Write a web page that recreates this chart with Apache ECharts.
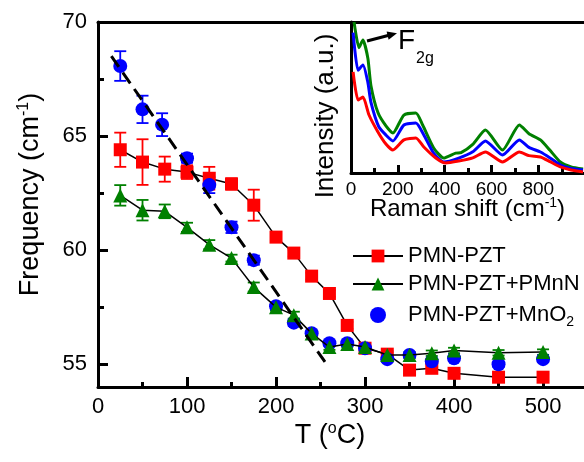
<!DOCTYPE html>
<html>
<head>
<meta charset="utf-8">
<script src="https://cdn.jsdelivr.net/npm/echarts@6/dist/echarts.min.js"></script>
<style>body{margin:0;background:#fff;}</style>
</head>
<body>
<div id="main" style="width:584px;height:462px;"></div>
<script>
// temperatures (oC)
var temps   = [25, 50, 75, 100, 125, 150, 175, 200, 220, 240, 260, 280, 300, 325, 350, 375, 400, 450, 500];
var tempsMn = [25, 50, 72, 100, 125, 150, 175, 200, 220, 240, 260, 280, 300, 325, 350, 375, 400, 450, 500];

// F2g mode frequency (cm-1) and error
var freqPZT  = [64.4, 63.86, 63.55, 63.42, 63.15, 62.9, 61.97, 60.57, 59.87, 58.86, 58.1, 56.7, 55.7, 55.44, 54.74, 54.82, 54.6, 54.43, 54.43];
var errPZT   = [0.75, 1.0, 0.55, 0.3, 0.5, 0.25, 0.68, 0.2, 0.15, 0.15, 0.15, 0.15, 0.15, 0.15, 0.15, 0.15, 0.15, 0.15, 0.15];
var freqPMnN = [62.4, 61.75, 61.7, 61.0, 60.24, 59.65, 58.38, 57.5, 57.15, 56.35, 55.75, 55.88, 55.75, 55.4, 55.4, 55.48, 55.6, 55.5, 55.53];
var errPMnN  = [0.45, 0.45, 0.3, 0.2, 0.2, 0.15, 0.2, 0.15, 0.15, 0.12, 0.12, 0.12, 0.12, 0.12, 0.12, 0.12, 0.12, 0.12, 0.12];
var freqMnO2 = [68.07, 66.17, 65.5, 64.03, 62.85, 61.0, 59.56, 57.54, 56.82, 56.36, 55.92, 55.92, 55.7, 55.22, 55.4, 55.13, 55.26, 55.0, 55.22];
var errMnO2  = [0.65, 0.6, 0.5, 0.2, 0.35, 0.25, 0.2, 0.15, 0.15, 0.12, 0.12, 0.12, 0.12, 0.12, 0.12, 0.12, 0.12, 0.12, 0.12];

// linear guide through the MnO2 points
var fitT = [15, 255];
var fitF = [68.5, 55.1];

// inset Raman spectra [shift, intensity]
var ramanPMnN = [[13,100],[34,83],[51,88],[72,76],[85,58],[115,40],[150,31],[179,26.5],[226,38.4],[277,39.7],[306,31.8],[353,16.6],[396,9.9],[447,13.2],[470,13.5],[520,19],[574,28.5],[647,15.2],[719,31.8],[760,26],[809,21.9],[850,15],[894,7.3],[940,4],[991,2.6]];
var ramanMnO2 = [[9,93],[30,68],[51,71.5],[72,60],[85,47],[119,30.5],[150,25],[179,21.2],[226,31.8],[277,33.1],[311,25.2],[353,13.2],[396,7.3],[460,9.9],[520,14],[574,21.2],[647,11.9],[719,21.9],[760,17],[809,13.9],[850,10],[894,5.3],[940,3],[991,2]];
var ramanPZT  = [[9,67],[30,48.3],[51,50.3],[77,38.4],[115,27.2],[150,19],[179,15.2],[226,21.9],[277,23.2],[311,17.2],[362,9.9],[404,6.6],[460,7.9],[520,10],[574,13.9],[647,7.3],[719,13.9],[760,11.5],[809,10.6],[850,7.5],[894,4],[940,2],[991,0.7]];

// axis ticks
var xMajor = [0, 100, 200, 300, 400, 500];
var xMinor = [50, 150, 250, 350, 450];
var yMajor = [55, 60, 65, 70];
var yMinor = [57.5, 62.5, 67.5];
var insetMajor = [0, 200, 400, 600, 800];
var insetMinor = [100, 300, 500, 700, 900];

var FONT = 'Liberation Sans';
var RED = '#ff0000', GREEN = '#008000', BLUE = '#0000ff';

function pairs(xs, ys) {
    return xs.map(function (x, i) { return [x, ys[i]]; });
}

function errorBars(color, xs, ys, es) {
    return {
        type: 'custom',
        xAxisIndex: 0,
        yAxisIndex: 0,
        z: 2,
        silent: true,
        encode: {x: 0, y: [1, 2]},
        data: xs.map(function (x, i) { return [x, ys[i] - es[i], ys[i] + es[i]]; }),
        renderItem: function (params, api) {
            var lo = api.coord([api.value(0), api.value(1)]);
            var hi = api.coord([api.value(0), api.value(2)]);
            var w = 6;
            var st = {stroke: color, lineWidth: 1.8};
            return {
                type: 'group',
                children: [
                    {type: 'line', shape: {x1: lo[0], y1: lo[1], x2: hi[0], y2: hi[1]}, style: st},
                    {type: 'line', shape: {x1: lo[0] - w, y1: lo[1], x2: lo[0] + w, y2: lo[1]}, style: st},
                    {type: 'line', shape: {x1: hi[0] - w, y1: hi[1], x2: hi[0] + w, y2: hi[1]}, style: st}
                ]
            };
        }
    };
}

var myChart = echarts.init(document.getElementById('main'));

var axisLine = {show: true, lineStyle: {color: '#000', width: 3}};
var tickStyle = {color: '#000', width: 3};

var option = {
    animation: false,
    backgroundColor: '#fff',
    textStyle: {fontFamily: FONT},
    grid: [
        {left: 98, top: 22, right: 0, bottom: 75, outerBoundsMode: 'none'},
        {left: 351, top: 22, right: 0, bottom: 289, outerBoundsMode: 'none'}
    ],
    xAxis: [
        {
            gridIndex: 0, type: 'value', position: 'bottom', min: 0, max: 546,
            axisLine: axisLine,
            axisTick: {show: true, inside: true, length: 10, lineStyle: tickStyle, customValues: xMajor},
            axisLabel: {customValues: xMajor, fontSize: 22, color: '#000', fontFamily: FONT, margin: 9},
            splitLine: {show: false},
            name: '{n|T (}{sup|o}{n|C)}',
            nameLocation: 'middle',
            nameGap: 34,
            nameMoveOverlap: false,
            nameTextStyle: {
                padding: [0, 22, 0, 0],
                rich: {
                    n: {fontSize: 27, fontFamily: FONT, color: '#000', lineHeight: 30},
                    sup: {fontSize: 16, fontFamily: FONT, color: '#000', lineHeight: 16, verticalAlign: 'top'}
                }
            }
        },
        {
            gridIndex: 0, type: 'value', position: 'bottom', min: 0, max: 546,
            axisLine: {show: false},
            axisTick: {show: true, inside: true, length: 5, lineStyle: tickStyle, customValues: xMinor},
            axisLabel: {show: false},
            splitLine: {show: false}
        },
        {
            gridIndex: 0, type: 'value', position: 'top', min: 0, max: 546,
            axisLine: axisLine,
            axisTick: {show: false},
            axisLabel: {show: false},
            splitLine: {show: false}
        },
        {
            gridIndex: 1, type: 'value', position: 'bottom', min: 0, max: 995,
            axisLine: axisLine,
            axisTick: {show: true, inside: true, length: 8, lineStyle: tickStyle, customValues: insetMajor},
            axisLabel: {customValues: insetMajor, fontSize: 19, color: '#000', fontFamily: FONT, margin: 7},
            splitLine: {show: false},
            name: '{n|Raman shift (cm}{sup|-1}{n|)}',
            nameLocation: 'middle',
            nameGap: 23,
            nameMoveOverlap: false,
            nameTextStyle: {
                rich: {
                    n: {fontSize: 24, fontFamily: FONT, color: '#000', lineHeight: 27},
                    sup: {fontSize: 14, fontFamily: FONT, color: '#000', lineHeight: 14, verticalAlign: 'top'}
                }
            }
        },
        {
            gridIndex: 1, type: 'value', position: 'bottom', min: 0, max: 995,
            axisLine: {show: false},
            axisTick: {show: true, inside: true, length: 5, lineStyle: tickStyle, customValues: insetMinor},
            axisLabel: {show: false},
            splitLine: {show: false}
        }
    ],
    yAxis: [
        {
            gridIndex: 0, type: 'value', position: 'left', min: 54, max: 70,
            axisLine: axisLine,
            axisTick: {show: true, inside: true, length: 10, lineStyle: tickStyle, customValues: yMajor},
            axisLabel: {customValues: yMajor, fontSize: 22, color: '#000', fontFamily: FONT, margin: 11},
            splitLine: {show: false},
            name: '{n|Frequency (cm}{sup|-1}{n|)}',
            nameLocation: 'middle',
            nameGap: 52,
            nameMoveOverlap: false,
            nameTextStyle: {
                padding: [0, 0, 0, 20],
                rich: {
                    n: {fontSize: 27, fontFamily: FONT, color: '#000', lineHeight: 30},
                    sup: {fontSize: 16, fontFamily: FONT, color: '#000', lineHeight: 16, verticalAlign: 'top'}
                }
            }
        },
        {
            gridIndex: 0, type: 'value', position: 'left', min: 54, max: 70,
            axisLine: {show: false},
            axisTick: {show: true, inside: true, length: 6, lineStyle: tickStyle, customValues: yMinor},
            axisLabel: {show: false},
            splitLine: {show: false}
        },
        {
            gridIndex: 1, type: 'value', position: 'left', min: 0, max: 100,
            axisLine: axisLine,
            axisTick: {show: false},
            axisLabel: {show: false},
            splitLine: {show: false}
        }
    ],
    legend: {
        orient: 'vertical',
        left: 352,
        top: 245,
        padding: 0,
        itemWidth: 50,
        itemHeight: 16,
        itemGap: 6,
        data: ['PMN-PZT', 'PMN-PZT+PMnN', 'PMN-PZT+MnO2'],
        formatter: function (name) {
            if (name === 'PMN-PZT+MnO2') return '{n|PMN-PZT+MnO}{sub|2}';
            return '{n|' + name + '}';
        },
        textStyle: {
            rich: {
                n: {fontSize: 22, fontFamily: FONT, color: '#000', lineHeight: 22},
                sub: {fontSize: 14, fontFamily: FONT, color: '#000', lineHeight: 14, padding: [14, 0, 0, 0]}
            }
        }
    },
    graphic: [
        {
            type: 'text', x: 326, y: 116, rotation: Math.PI / 2, z: 10,
            style: {text: 'Intensity (a.u.)', font: '26px "Liberation Sans"', fill: '#000', align: 'center', verticalAlign: 'middle'}
        },
        {
            type: 'line', z: 10,
            shape: {x1: 367, y1: 41, x2: 390, y2: 35},
            style: {stroke: '#000', lineWidth: 3}
        },
        {
            type: 'polygon', z: 10,
            shape: {points: [[397, 33.3], [388.6, 39.8], [386.6, 31.4]]},
            style: {fill: '#000'}
        },
        {
            type: 'text', z: 10, left: 398, top: 27,
            style: {text: 'F', font: '28px "Liberation Sans"', fill: '#000'}
        },
        {
            type: 'text', z: 10, left: 416, top: 51,
            style: {text: '2g', font: '16px "Liberation Sans"', fill: '#000'}
        }
    ],
    series: [
        errorBars(RED, temps, freqPZT, errPZT),
        errorBars(BLUE, tempsMn, freqMnO2, errMnO2),
        errorBars(GREEN, temps, freqPMnN, errPMnN),
        {
            name: 'PMN-PZT', type: 'line', xAxisIndex: 0, yAxisIndex: 0, z: 3,
            data: pairs(temps, freqPZT),
            symbol: 'rect', symbolSize: 13,
            itemStyle: {color: RED, borderWidth: 0},
            lineStyle: {color: '#000', width: 1.5}
        },
        {
            name: 'PMN-PZT+MnO2', type: 'scatter', xAxisIndex: 0, yAxisIndex: 0, z: 4,
            data: pairs(tempsMn, freqMnO2),
            symbol: 'circle', symbolSize: 14,
            itemStyle: {color: BLUE, opacity: 1}
        },
        {
            name: 'PMN-PZT+PMnN', type: 'line', xAxisIndex: 0, yAxisIndex: 0, z: 5,
            data: pairs(temps, freqPMnN),
            symbol: 'triangle', symbolSize: 14,
            itemStyle: {color: GREEN, borderWidth: 0},
            lineStyle: {color: '#000', width: 1.5}
        },
        {
            name: 'fit', type: 'line', xAxisIndex: 0, yAxisIndex: 0, z: 6,
            data: pairs(fitT, fitF),
            symbol: 'none',
            lineStyle: {color: '#000', width: 3, type: [13, 7]}
        },
        {
            type: 'line', xAxisIndex: 3, yAxisIndex: 2, data: ramanPMnN, showSymbol: false, symbol: 'none',
            smooth: 0.2, lineStyle: {color: GREEN, width: 3}
        },
        {
            type: 'line', xAxisIndex: 3, yAxisIndex: 2, data: ramanMnO2, showSymbol: false, symbol: 'none',
            smooth: 0.2, lineStyle: {color: BLUE, width: 3}
        },
        {
            type: 'line', xAxisIndex: 3, yAxisIndex: 2, data: ramanPZT, showSymbol: false, symbol: 'none',
            smooth: 0.2, lineStyle: {color: RED, width: 3}
        }
    ]
};

myChart.setOption(option);
</script>
</body>
</html>
